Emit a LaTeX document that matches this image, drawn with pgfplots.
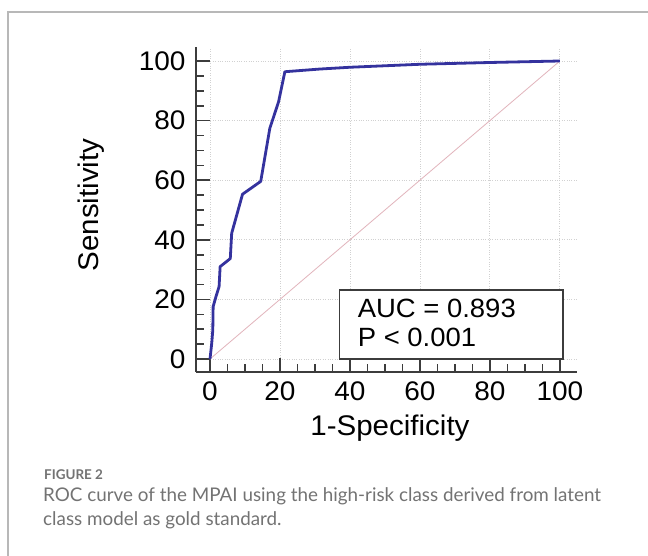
\documentclass[border=0pt]{standalone}
\usepackage{pgfplots}
\pgfplotsset{compat=1.18}
\usepackage{fontspec}
\setmainfont{Liberation Sans}[FakeStretch=1.04]
\newfontfamily\capfont{Lato}
\definecolor{roc}{RGB}{52,50,158}
\definecolor{diag}{RGB}{226,180,188}
\definecolor{spine}{RGB}{60,60,60}
\definecolor{capgray}{RGB}{115,115,115}

\begin{document}
\begin{tikzpicture}
\useasboundingbox (0,0) rectangle (648bp,556bp);
\fill[white] (0,0) rectangle (648bp,556bp);
\draw[black!28, line width=1.2bp] (8bp,0) -- (8bp,544bp) -- (648bp,544bp);

\begin{axis}[
  at={(196bp,184bp)}, anchor=south west,
  scale only axis, width=381bp, height=325bp,
  xmin=-4, xmax=104.9, ymin=-4.36, ymax=104.7,
  axis x line*=bottom, axis y line*=left,
  axis line style={spine, line width=2.6bp, -},
  xtick={0,20,...,100}, ytick={0,20,...,100},
  minor x tick num=3, minor y tick num=3,
  tick align=inside,
  major tick length=13.5bp, minor tick length=7.5bp,
  every tick/.style={spine, line width=1.6bp},
  grid=major,
  major grid style={black!18, dotted, line width=0.8bp},
  tick label style={font=\fontsize{27}{30}\selectfont},
  /pgf/number format/assume math mode=true,
  yticklabel style={xshift=-7bp},
  xticklabel style={yshift=-6bp},
  xlabel={1-Specificity}, ylabel={Sensitivity},
  label style={font=\fontsize{28.5}{31}\selectfont},
  xlabel style={at={(axis description cs:0.509,-0.172)}, anchor=center},
  ylabel style={at={(axis description cs:-0.275,0.514)}, anchor=center},
  clip=false,
]
\addplot[diag, line width=0.8bp] coordinates {(0,0) (100,100)};
\addplot[roc, line width=2.8bp, line join=round] coordinates {
  (0,0) (0.5,5.3) (0.8,9.7) (0.9,17.6) (1.7,20.9) (2.6,24.3) (2.9,31)
  (5.8,33.7) (6.2,42.2) (9.3,55.3) (14.5,59.6) (17.1,77.4) (19.6,86.3)
  (21.4,96.4) (31.4,97.3) (40,97.9) (60,98.9) (80,99.5) (100,100)
};
\draw[spine, line width=1.4bp, fill=white] (axis cs:37.1,0) rectangle (axis cs:100.9,23.2);
\node[anchor=base west, inner sep=0, font=\fontsize{26.5}{28}\selectfont] at (axis cs:42.2,13.8) {AUC = 0.893};
\node[anchor=base west, inner sep=0, font=\fontsize{26.5}{28}\selectfont] at (axis cs:42.2,4.1) {P < 0.001};
\end{axis}

\node[anchor=base west, inner sep=0, text=capgray, font=\capfont\bfseries\fontsize{13.5}{16}\selectfont] at (44bp,76bp) {FIGURE 2};
\node[anchor=base west, inner sep=0, text=capgray, font=\capfont\fontsize{18.9}{22}\selectfont] at (43bp,54bp) {ROC curve of the MPAI using the high-risk class derived from latent};
\node[anchor=base west, inner sep=0, text=capgray, font=\capfont\fontsize{18.9}{22}\selectfont] at (43bp,31bp) {class model as gold standard.};
\end{tikzpicture}
\end{document}
